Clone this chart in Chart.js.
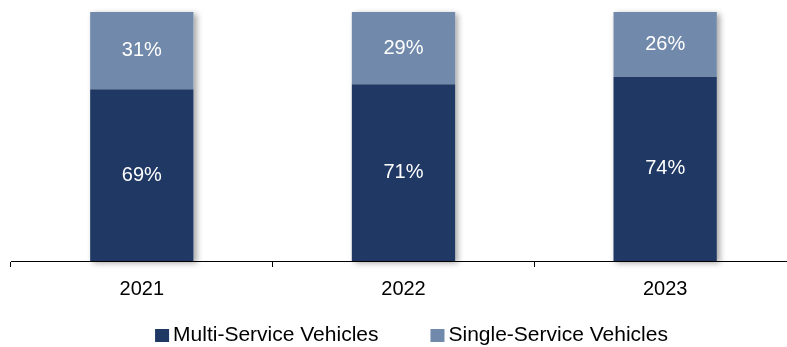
<!DOCTYPE html>
<html>
<head>
<meta charset="utf-8">
<script src="https://cdn.jsdelivr.net/npm/chart.js@4/dist/chart.umd.min.js"></script>
<style>
  html, body { margin: 0; padding: 0; background: #fff; overflow: hidden; }
  #wrap { position: relative; width: 796px; height: 347px; }
</style>
</head>
<body>
<div id="wrap"><canvas id="chart"></canvas></div>
<script>
const years = ['2021', '2022', '2023']
const multiService = [69, 71, 74]
const singleService = [31, 29, 26]

const FONT = '"Liberation Sans", Arial, sans-serif'

const barShadow = {
  id: 'barShadow',
  beforeDatasetsDraw(chart) {
    const ctx = chart.ctx
    const bottomMeta = chart.getDatasetMeta(0)
    const topMeta = chart.getDatasetMeta(1)
    ctx.save()
    ctx.shadowColor = 'rgba(0,0,0,0.35)'
    ctx.shadowBlur = 6
    ctx.shadowOffsetX = 3
    ctx.shadowOffsetY = 2
    ctx.fillStyle = '#fff'
    bottomMeta.data.forEach((bar, i) => {
      const top = topMeta.data[i].y
      const half = bar.width / 2
      ctx.fillRect(bar.x - half, top, bar.width, bar.base - top)
    })
    ctx.restore()
  }
}

const valueLabels = {
  id: 'valueLabels',
  afterDatasetsDraw(chart) {
    const ctx = chart.ctx
    ctx.save()
    ctx.fillStyle = '#fff'
    ctx.font = '20px ' + FONT
    ctx.textAlign = 'center'
    ctx.textBaseline = 'middle'
    chart.data.datasets.forEach((ds, d) => {
      chart.getDatasetMeta(d).data.forEach((bar, i) => {
        ctx.fillText(ds.data[i] + '%', bar.x, (bar.y + bar.base) / 2)
      })
    })
    ctx.restore()
  }
}

// legend drawn by hand so the square sits tight against its label
const bottomLegend = {
  id: 'bottomLegend',
  afterDraw(chart) {
    const ctx = chart.ctx
    const box = 14, gap = 4, between = 52
    ctx.save()
    ctx.font = '21px ' + FONT
    ctx.textBaseline = 'middle'
    const items = chart.data.datasets.map(ds => ({
      text: ds.label,
      color: ds.backgroundColor,
      w: box + gap + ctx.measureText(ds.label).width
    }))
    const total = items.reduce((s, it) => s + it.w, 0) + between * (items.length - 1)
    const area = chart.chartArea
    let x = (area.left + area.right) / 2 + 8 - total / 2
    const y = 335
    items.forEach(it => {
      ctx.fillStyle = it.color
      ctx.fillRect(x, y - 6, box, 13)
      ctx.fillStyle = '#000'
      ctx.fillText(it.text, x + box + gap, y)
      x += it.w + between
    })
    ctx.restore()
  }
}

const ctx = document.getElementById('chart').getContext('2d')

new Chart(ctx, {
  type: 'bar',
  data: {
    labels: years,
    datasets: [
      {
        label: 'Multi-Service Vehicles',
        data: multiService,
        backgroundColor: '#1f3864'
      },
      {
        label: 'Single-Service Vehicles',
        data: singleService,
        backgroundColor: '#7189aa'
      }
    ]
  },
  options: {
    responsive: true,
    maintainAspectRatio: false,
    animation: false,
    categoryPercentage: 1,
    barPercentage: 0.395,
    layout: {
      padding: { top: 12, left: 11, right: 0, bottom: 36 }
    },
    plugins: {
      legend: { display: false },
      tooltip: { enabled: false }
    },
    scales: {
      x: {
        stacked: true,
        grid: {
          drawOnChartArea: false,
          drawTicks: true,
          tickLength: 6,
          color: '#000'
        },
        border: { color: '#000', width: 1 },
        ticks: {
          color: '#000',
          padding: 10,
          font: { family: FONT, size: 20 }
        }
      },
      y: {
        stacked: true,
        display: false,
        min: 0,
        max: 100
      }
    }
  },
  plugins: [barShadow, valueLabels, bottomLegend]
})
</script>
</body>
</html>
